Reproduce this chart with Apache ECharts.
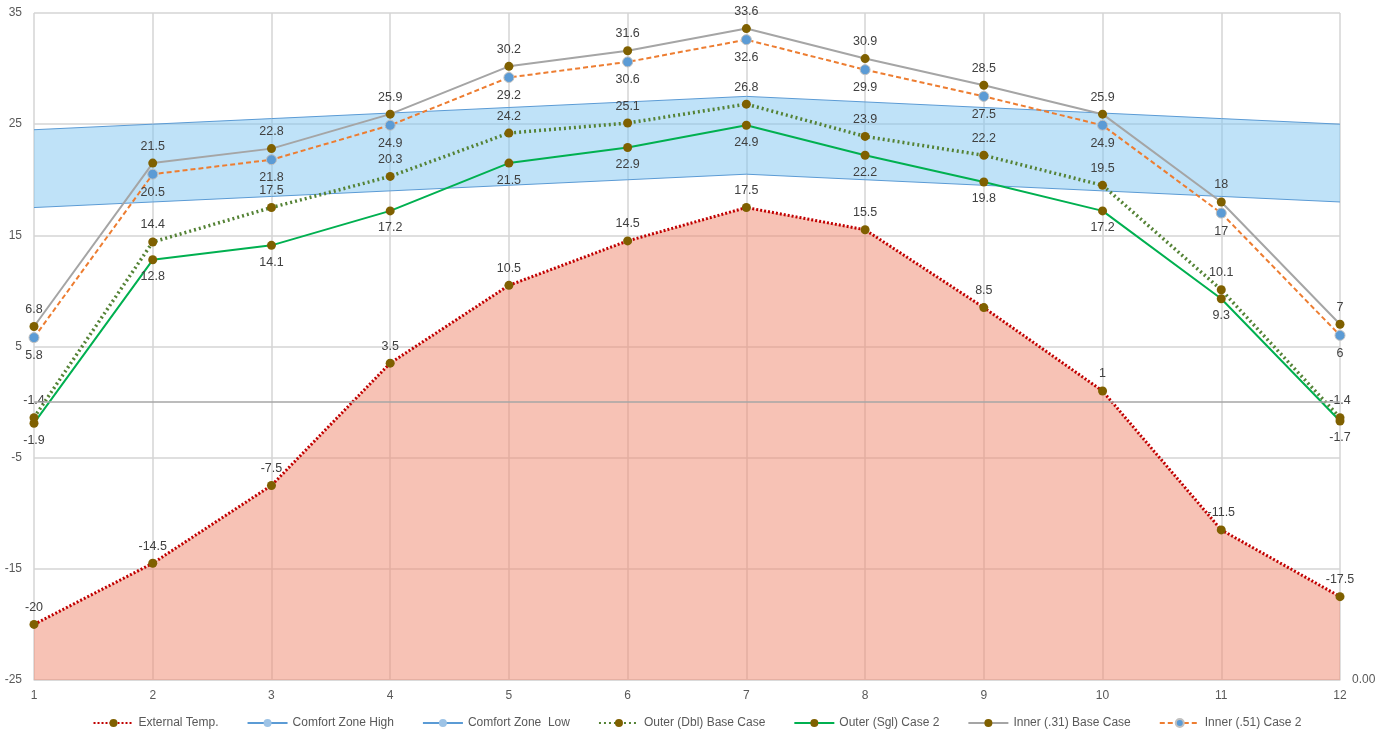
<!DOCTYPE html>
<html><head><meta charset="utf-8">
<script src="https://cdn.jsdelivr.net/npm/echarts@6/dist/echarts.min.js"></script>
<style>html,body{margin:0;padding:0;background:#fff}#c{width:1394px;height:736px}</style>
</head><body><div id="c"></div>
<script>
const categories = ['1','2','3','4','5','6','7','8','9','10','11','12'];
const externalTemp = [-20, -14.5, -7.5, 3.5, 10.5, 14.5, 17.5, 15.5, 8.5, 1, -11.5, -17.5];
const comfortHigh = [24.5, 25, 25.5, 26, 26.5, 27, 27.5, 27, 26.5, 26, 25.5, 25];
const comfortLow = [17.5, 18, 18.5, 19, 19.5, 20, 20.5, 20, 19.5, 19, 18.5, 18];
const outerDblBase = [-1.4, 14.4, 17.5, 20.3, 24.2, 25.1, 26.8, 23.9, 22.2, 19.5, 10.1, -1.4];
const outerSglCase2 = [-1.9, 12.8, 14.1, 17.2, 21.5, 22.9, 24.9, 22.2, 19.8, 17.2, 9.3, -1.7];
const inner31Base = [6.8, 21.5, 22.8, 25.9, 30.2, 31.6, 33.6, 30.9, 28.5, 25.9, 18, 7];
const inner51Case2 = [5.8, 20.5, 21.8, 24.9, 29.2, 30.6, 32.6, 29.9, 27.5, 24.9, 17, 6];

const FONT = 'Liberation Sans';
const brown = '#7f6000';
const lbl = pos => ({show: true, position: pos, color: '#404040', fontSize: 12.5, fontFamily: FONT, distance: 6});
const bandDiff = comfortHigh.map((h, i) => +(h - comfortLow[i]).toFixed(2));

const chart = echarts.init(document.getElementById('c'), null, {renderer: 'canvas'});
chart.setOption({
  animation: false,
  backgroundColor: '#fff',
  textStyle: {fontFamily: FONT},
  grid: {left: 34, right: 54, top: 13, bottom: 56, containLabel: false},
  legend: {
    bottom: 2, left: 'center', itemGap: 28, itemWidth: 40, itemHeight: 10,
    textStyle: {color: '#595959', fontSize: 12, fontFamily: FONT},
    data: ['External Temp.', 'Comfort Zone High', 'Comfort Zone  Low', 'Outer (Dbl) Base Case', 'Outer (Sgl) Case 2', 'Inner (.31) Base Case', 'Inner (.51) Case 2']
  },
  xAxis: {
    type: 'category', data: categories, boundaryGap: false,
    axisLine: {onZero: false, lineStyle: {color: '#d9d9d9', width: 1.5}},
    axisTick: {show: false},
    axisLabel: {color: '#595959', fontSize: 12, margin: 10, fontFamily: FONT},
    splitLine: {show: true, lineStyle: {color: '#d4d4d4', width: 1.5}}
  },
  yAxis: [{
    type: 'value', min: -25, max: 35, interval: 10,
    axisLine: {show: false}, axisTick: {show: false},
    axisLabel: {color: '#595959', fontSize: 12, margin: 12, fontFamily: FONT},
    splitLine: {lineStyle: {color: '#d4d4d4', width: 1.5}}
  }, {
    type: 'value', min: 0, max: 1, interval: 1, position: 'right',
    axisLine: {show: false}, axisTick: {show: false}, splitLine: {show: false},
    axisLabel: {color: '#595959', fontSize: 12, margin: 12, fontFamily: FONT, formatter: v => v === 0 ? '0.00' : ''}
  }],
  series: [
    {
      name: 'External Temp.', type: 'line', data: externalTemp, z: 1,
      symbol: 'circle', symbolSize: 9, itemStyle: {color: brown},
      lineStyle: {color: '#c00000', width: 3, type: [2, 2]},
      areaStyle: {color: 'rgba(240,138,113,0.52)', opacity: 1, origin: 'start'},
      label: lbl('top'),
      markLine: {silent: true, symbol: 'none', label: {show: false},
        lineStyle: {color: '#a6a6a6', width: 1.5, type: 'solid'}, data: [{yAxis: 0}]}
    },
    {
      name: 'Comfort Zone  Low', type: 'line', data: comfortLow, stack: 'cz', z: 2,
      symbol: 'none', lineStyle: {color: '#5b9bd5', width: 1}, itemStyle: {color: '#9dc3e6'}
    },
    {
      name: 'Comfort Zone High', type: 'line', data: bandDiff, stack: 'cz', z: 2,
      symbol: 'none', lineStyle: {color: '#5b9bd5', width: 1}, itemStyle: {color: '#9dc3e6'},
      areaStyle: {color: 'rgba(127,197,241,0.5)', opacity: 1}
    },
    {
      name: 'Outer (Dbl) Base Case', type: 'line', data: outerDblBase, z: 3,
      symbol: 'circle', symbolSize: 9, itemStyle: {color: brown},
      lineStyle: {color: '#548235', width: 3.5, type: [2, 3]},
      label: lbl('top')
    },
    {
      name: 'Outer (Sgl) Case 2', type: 'line', data: outerSglCase2, z: 3,
      symbol: 'circle', symbolSize: 9, itemStyle: {color: brown},
      lineStyle: {color: '#00b050', width: 2},
      label: lbl('bottom')
    },
    {
      name: 'Inner (.31) Base Case', type: 'line', data: inner31Base, z: 3,
      symbol: 'circle', symbolSize: 9, itemStyle: {color: brown},
      lineStyle: {color: '#a5a5a5', width: 2},
      label: lbl('top')
    },
    {
      name: 'Inner (.51) Case 2', type: 'line', data: inner51Case2, z: 3,
      symbol: 'circle', symbolSize: 10, itemStyle: {color: '#5b9bd5', borderColor: '#c0c0c0', borderWidth: 1},
      lineStyle: {color: '#ed7d31', width: 2, type: [5, 3]},
      label: lbl('bottom')
    }
  ]
});
</script></body></html>
